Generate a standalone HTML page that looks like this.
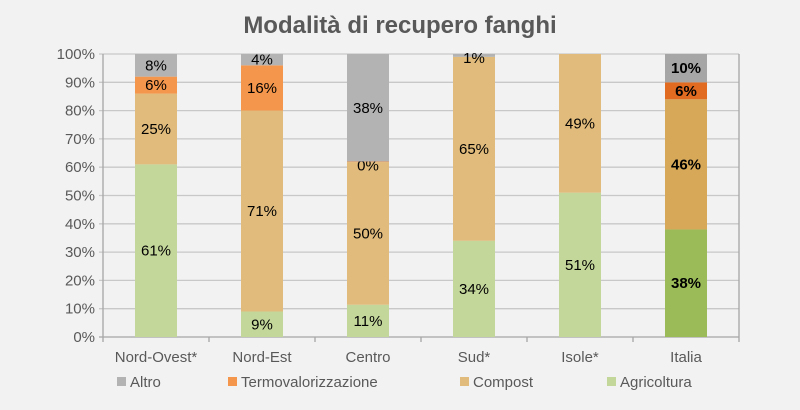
<!DOCTYPE html>
<html><head><meta charset="utf-8"><style>
body{margin:0;background:#f2f2f2;font-family:"Liberation Sans",sans-serif}
svg{display:block}
</style></head><body>
<svg id="c" width="800" height="410">
<rect width="800" height="410" fill="#f2f2f2"/>
<text x="400" y="33" text-anchor="middle" font-size="24" font-weight="bold" fill="#595959">Modalità di recupero fanghi</text>
</svg>
<script>
const categories=["Nord-Ovest*","Nord-Est","Centro","Sud*","Isole*","Italia"];
const agricoltura=[61,9,11.4,34,51,38];
const compost=[25,71,50.4,65,49,46];
const termo=[6,16,0.2,0,0,6];
const altro=[8,4,38,1,0,10];
const yTicks=[0,10,20,30,40,50,60,70,80,90,100];
const seriesNames=["Altro","Termovalorizzazione","Compost","Agricoltura"];
const svg=document.getElementById('c');const NS='http://www.w3.org/2000/svg';
const X0=103,X1=739,Y0=337,Y1=54;
const y=v=>Y0-(v/100)*(Y0-Y1);
const bw=(X1-X0)/categories.length;
const xc=i=>X0+bw*(i+0.5);
function mk(t,a,p){const e=document.createElementNS(NS,t);for(const k in a)e.setAttribute(k,a[k]);(p||svg).appendChild(e);return e;}
yTicks.forEach(t=>{
 const g=mk('line',{x1:X0-4,x2:X1,y1:y(t),y2:y(t),stroke:t===0?'#a6a6a6':'#c8c8c8','stroke-width':1.3});
 
 
 const l=mk('text',{x:X0-8,y:y(t)+5,'text-anchor':'end','font-size':15,fill:'#595959'});l.textContent=t+'%';
 
 
});
const ax=mk('line',{x1:X0,x2:X0,y1:Y1,y2:Y0+5,stroke:'#a6a6a6','stroke-width':1.3});


const rx=mk('line',{x1:X1,x2:X1,y1:Y1,y2:Y0+5,stroke:'#a6a6a6','stroke-width':1.3});


for(let i=1;i<categories.length;i++){const t=mk('line',{x1:X0+bw*i,x2:X0+bw*i,y1:Y0,y2:Y0+5,stroke:'#a6a6a6','stroke-width':1.3});
 
 }
const cols=[["#c4d79b","#e0bb7c","#f4964b","#b3b3b3"],["#9bbb59","#d6a858","#e26b22","#a6a6a6"]];
const series=[agricoltura,compost,termo,altro];const snames=["agricoltura","compost","termovalorizzazione","altro"];
categories.forEach((c,i)=>{
 const it=c==="Italia"?1:0;let cum=0;
 series.forEach((s,k)=>{
  const v=s[i];const top=cum+v;
  if(v>0){const r=mk('rect',{x:xc(i)-21,y:y(top),width:42,height:y(cum)-y(top),fill:cols[it][k]});
   
   }
  const show=v>0||(k===2&&i===2);
  if(show){
   let ly=(y(cum)+y(top))/2+5;if(v<2)ly=y(top)+9;
   const t=mk('text',{x:xc(i),y:ly,'text-anchor':'middle','font-size':15,fill:'#000','font-weight':it?'bold':'normal'});
   t.textContent=Math.round(v)+'%';
   
   
  }
  cum=top;
 });
 const l=mk('text',{x:xc(i),y:362,'text-anchor':'middle','font-size':15,fill:'#595959'});l.textContent=c;
 
 
});
const lx=[117,228,460,607];const lc=["#b3b3b3","#f4964b","#e0bb7c","#c4d79b"];
seriesNames.forEach((n,k)=>{
 const g=mk('g',{});
 
 
 mk('rect',{x:lx[k],y:377,width:9,height:9,fill:lc[k]},g);
 const t=mk('text',{x:lx[k]+13,y:387,'font-size':15,fill:'#595959'},g);t.textContent=n;
});
</script>
</body></html>
